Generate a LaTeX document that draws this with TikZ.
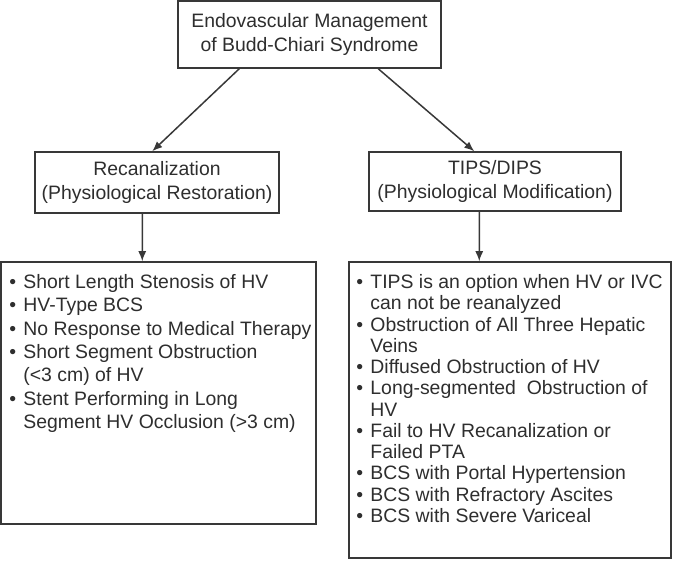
\documentclass[tikz,border=0pt]{standalone}
\usepackage{fontspec}
\setmainfont{Liberation Sans}
\usetikzlibrary{arrows.meta}
\definecolor{ink}{HTML}{2E2E2E}
\definecolor{edgec}{HTML}{383838}
\newcommand{\bul}{\makebox[14bp][l]{•}}
\newcommand{\ind}{\hspace*{14bp}}
\begin{document}
\begin{tikzpicture}[x=1bp,y=-1bp,
  box/.style={draw=edgec, line width=1.5bp, fill=white, inner sep=0pt, text=ink, align=center,
              font=\fontsize{19.4bp}{23.3bp}\selectfont},
  txtl/.style={text=ink, inner sep=0pt, align=left, font=\fontsize{19.4bp}{23.3bp}\selectfont},
  txtr/.style={text=ink, inner sep=0pt, align=left, font=\fontsize{19.4bp}{21.25bp}\selectfont},
  arr/.style={draw=edgec, line width=1.5bp, -{Latex[length=10bp,width=8bp]}}]
\useasboundingbox (0,0) rectangle (674,562);
\node[box, minimum width=263bp, minimum height=67bp] (top) at (309.5,34.5)
  {Endovascular Management\\of Budd-Chiari Syndrome};
\node[box, minimum width=244bp, minimum height=61bp] (lm) at (157,182.5)
  {Recanalization\\(Physiological Restoration)};
\node[box, minimum width=252bp, minimum height=59bp] (rm) at (495,181.5)
  {TIPS/DIPS\\(Physiological Modification)};
\node[box, minimum width=315bp, minimum height=262bp] (lb) at (158.5,393) {};
\node[box, minimum width=322bp, minimum height=296bp] (rb) at (510,410) {};
\node[txtl, anchor=north west] (lbt) at ([shift={(9bp,-13bp)}]lb.north west)
  {\bul Short Length Stenosis of HV\\
   \bul HV-Type BCS\\
   \bul No Response to Medical Therapy\\
   \bul Short Segment Obstruction\\
   \ind (<3 cm) of HV\\
   \bul Stent Performing in Long\\
   \ind Segment HV Occlusion (>3 cm)};
\node[txtr, anchor=north west] (rbt) at ([shift={(8bp,-13bp)}]rb.north west)
  {\bul TIPS is an option when HV or IVC\\
   \ind can not be reanalyzed\\
   \bul Obstruction of All Three Hepatic\\
   \ind Veins\\
   \bul Diffused Obstruction of HV\\
   \bul Long-segmented\ \ Obstruction of\\
   \ind HV\\
   \bul Fail to HV Recanalization or\\
   \ind Failed PTA\\
   \bul BCS with Portal Hypertension\\
   \bul BCS with Refractory Ascites\\
   \bul BCS with Severe Variceal};
\draw[arr] ([xshift=62bp]top.south west) -- ([xshift=118bp]lm.north west);
\draw[arr] ([xshift=201bp]top.south west) -- ([xshift=106bp]rm.north west);
\draw[arr] ([xshift=108bp]lm.south west) -- ([xshift=142bp]lb.north west);
\draw[arr] ([xshift=111bp]rm.south west) -- ([xshift=131bp]rb.north west);
\end{tikzpicture}
\end{document}
